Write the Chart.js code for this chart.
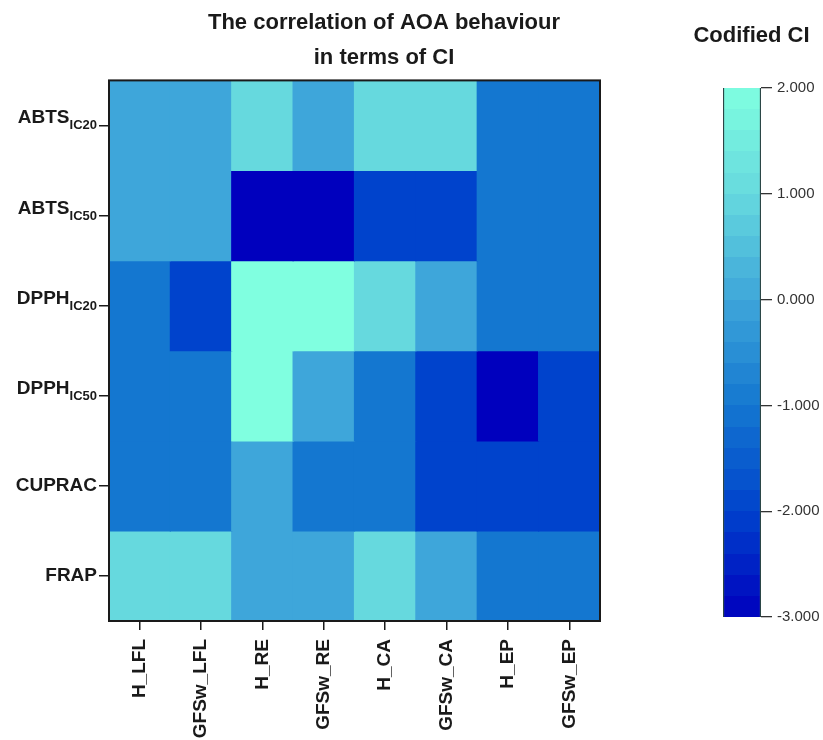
<!DOCTYPE html>
<html>
<head>
<meta charset="utf-8">
<script src="https://cdn.jsdelivr.net/npm/chart.js@4/dist/chart.umd.min.js"></script>
<style>
  html, body { margin: 0; padding: 0; background: #ffffff; }
  #wrap { position: relative; width: 823px; height: 740px; overflow: hidden; }
  #heat { position: absolute; left: 0; top: 0; }
  #cbar { position: absolute; left: 680px; top: 0; }
</style>
</head>
<body>
<div id="wrap">
  <canvas id="heat" width="768" height="740"></canvas>
  <canvas id="cbar" width="143" height="740"></canvas>
</div>
<script>
// ---------- data ----------
const columns = ['H_LFL', 'GFSw_LFL', 'H_RE', 'GFSw_RE', 'H_CA', 'GFSw_CA', 'H_EP', 'GFSw_EP'];
const rowNames = ['ABTS', 'ABTS', 'DPPH', 'DPPH', 'CUPRAC', 'FRAP'];
const rowSubs  = ['IC20', 'IC50', 'IC20', 'IC50', '', ''];

const abtsIC20 = [0, 0, 1, 0, 1, 1, -1, -1];
const abtsIC50 = [0, 0, -3, -3, -2, -2, -1, -1];
const dpphIC20 = [-1, -2, 2, 2, 1, 0, -1, -1];
const dpphIC50 = [-1, -1, 2, 0, -1, -2, -3, -2];
const cuprac   = [-1, -1, 0, -1, -1, -2, -2, -2];
const frap     = [1, 1, 0, 0, 1, 0, -1, -1];
const rowValues = [abtsIC20, abtsIC50, dpphIC20, dpphIC50, cuprac, frap];

const scaleMin = -3, scaleMax = 2;
const colorbarTicks = [-3, -2, -1, 0, 1, 2];

// ---------- colour map ----------
const cmapStops = [
  [-3, [0, 0, 190]],
  [-2, [0, 67, 204]],
  [-1, [20, 119, 208]],
  [0,  [62, 166, 218]],
  [1,  [102, 217, 222]],
  [2,  [128, 255, 224]]
];
function colorFor(v) {
  if (v <= cmapStops[0][0]) return rgb(cmapStops[0][1]);
  for (let i = 0; i < cmapStops.length - 1; i++) {
    const [a, ca] = cmapStops[i], [b, cb] = cmapStops[i + 1];
    if (v <= b) {
      const t = (v - a) / (b - a);
      return rgb(ca.map((c, k) => Math.round(c + (cb[k] - c) * t)));
    }
  }
  return rgb(cmapStops[cmapStops.length - 1][1]);
}
function rgb(a) { return 'rgb(' + a[0] + ',' + a[1] + ',' + a[2] + ')'; }

const FONT = '"Liberation Sans", Arial, Helvetica, sans-serif';
const DARK = '#1a1a1a';

// ---------- heatmap ----------
const datasets = rowValues.map((vals, i) => ({
  label: rowNames[i] + rowSubs[i],
  data: vals.map(() => [i, i + 1]),
  backgroundColor: vals.map(colorFor),
  borderWidth: 0,
  barPercentage: 1,
  categoryPercentage: 1,
  grouped: false,
  inflateAmount: 0.6
}));

const yLabelPlugin = {
  id: 'yLabels',
  afterDraw(chart) {
    const ctx = chart.ctx;
    const ys = chart.scales.y;
    const xRight = ys.right - 8 - 4;
    ctx.save();
    ctx.fillStyle = DARK;
    for (let i = 0; i < rowNames.length; i++) {
      const y = ys.getPixelForValue(i + 0.5);
      ctx.font = 'bold 19px ' + FONT;
      const mainW = ctx.measureText(rowNames[i]).width;
      let subW = 0;
      if (rowSubs[i]) {
        ctx.font = 'bold 13px ' + FONT;
        subW = ctx.measureText(rowSubs[i]).width;
      }
      const x0 = xRight - mainW - subW;
      ctx.textAlign = 'left';
      ctx.font = 'bold 19px ' + FONT;
      if (rowSubs[i]) {
        ctx.textBaseline = 'alphabetic';
        ctx.fillText(rowNames[i], x0, y - 2);
        ctx.font = 'bold 13px ' + FONT;
        ctx.fillText(rowSubs[i], x0 + mainW, y + 4);
      } else {
        ctx.textBaseline = 'middle';
        ctx.fillText(rowNames[i], x0, y);
      }
    }
    ctx.restore();
  }
};

const frameBox = {
  id: 'frameBox',
  afterDatasetsDraw(chart) {
    const { ctx, chartArea: a } = chart;
    ctx.save();
    ctx.strokeStyle = DARK;
    ctx.lineWidth = 2;
    ctx.strokeRect(a.left, a.top, a.right - a.left, a.bottom - a.top);
    ctx.restore();
  }
};

new Chart(document.getElementById('heat'), {
  type: 'bar',
  data: { labels: columns, datasets },
  plugins: [yLabelPlugin, frameBox],
  options: {
    responsive: false,
    animation: false,
    devicePixelRatio: 1,
    layout: { padding: 0 },
    plugins: {
      legend: { display: false },
      tooltip: { enabled: false },
      title: {
        display: true,
        text: ['The correlation of AOA behaviour', 'in terms of CI'],
        color: DARK,
        font: { family: FONT, size: 22, weight: 'bold', lineHeight: 1.6 },
        padding: { top: 5, bottom: 5 }
      }
    },
    scales: {
      x: {
        type: 'category',
        offset: true,
        grid: { offset: false, drawOnChartArea: false, drawTicks: true, tickLength: 9, color: DARK, lineWidth: 1.5 },
        border: { display: false },
        ticks: {
          color: DARK, font: { family: FONT, size: 19, weight: 'bold' },
          minRotation: 90, maxRotation: 90, padding: 9, autoSkip: false
        },
        afterFit(s) { s.height = 119; }
      },
      y: {
        type: 'linear',
        min: 0, max: 6, reverse: true,
        afterBuildTicks(s) { s.ticks = rowNames.map((_, i) => ({ value: i + 0.5 })); },
        grid: { drawOnChartArea: false, drawTicks: true, tickLength: 10, color: DARK, lineWidth: 1.5 },
        border: { display: false },
        ticks: { autoSkip: false, callback: () => '' },
        afterFit(s) { s.width = 109; }
      },
      yr: {
        type: 'linear', position: 'right', min: 0, max: 1,
        grid: { display: false }, border: { display: false },
        ticks: { display: false },
        afterFit(s) { s.width = 168; }
      }
    }
  }
});

// ---------- colour bar ----------
function barGradient(context) {
  const chart = context.chart;
  const area = chart.chartArea;
  if (!area) return colorFor(0);
  const ys = chart.scales.y;
  const yTop = ys.getPixelForValue(scaleMax), yBot = ys.getPixelForValue(scaleMin);
  const g = chart.ctx.createLinearGradient(0, yBot, 0, yTop);
  const bands = 25;
  for (let b = 0; b < bands; b++) {
    const c = colorFor(scaleMin + (b + 0.5) * (scaleMax - scaleMin) / bands);
    g.addColorStop(b / bands, c);
    g.addColorStop((b + 1) / bands, c);
  }
  return g;
}

new Chart(document.getElementById('cbar'), {
  type: 'bar',
  data: {
    labels: ['Codified CI'],
    datasets: [{
      data: [[scaleMin, scaleMax]],
      backgroundColor: barGradient,
      borderColor: '#2b4646',
      borderWidth: 1.5,
      borderSkipped: false,
      barPercentage: 1,
      categoryPercentage: 1
    }]
  },
  options: {
    responsive: false,
    animation: false,
    devicePixelRatio: 1,
    layout: { padding: { left: 0, bottom: 123, top: 0, right: 0 } },
    plugins: {
      legend: { display: false },
      tooltip: { enabled: false },
      title: {
        display: true,
        text: 'Codified CI',
        color: DARK,
        font: { family: FONT, size: 22, weight: 'bold', lineHeight: 1.2 },
        padding: { top: 23, bottom: 38.6 }
      }
    },
    scales: {
      x: { display: false },
      yl: {
        type: 'linear', position: 'left', min: 0, max: 1,
        grid: { display: false }, border: { display: false },
        ticks: { display: false },
        afterFit(s) { s.width = 43; }
      },
      y: {
        type: 'linear', position: 'right',
        min: scaleMin, max: scaleMax,
        afterBuildTicks(s) { s.ticks = colorbarTicks.map(v => ({ value: v })); },
        grid: { drawOnChartArea: false, drawTicks: true, tickLength: 11, color: '#333', lineWidth: 1.3 },
        border: { display: false },
        ticks: {
          color: '#333', font: { family: FONT, size: 15 }, padding: 5,
          callback: v => Number(v).toFixed(3)
        },
        afterFit(s) { s.width = 62; }
      }
    }
  }
});
</script>
</body>
</html>
